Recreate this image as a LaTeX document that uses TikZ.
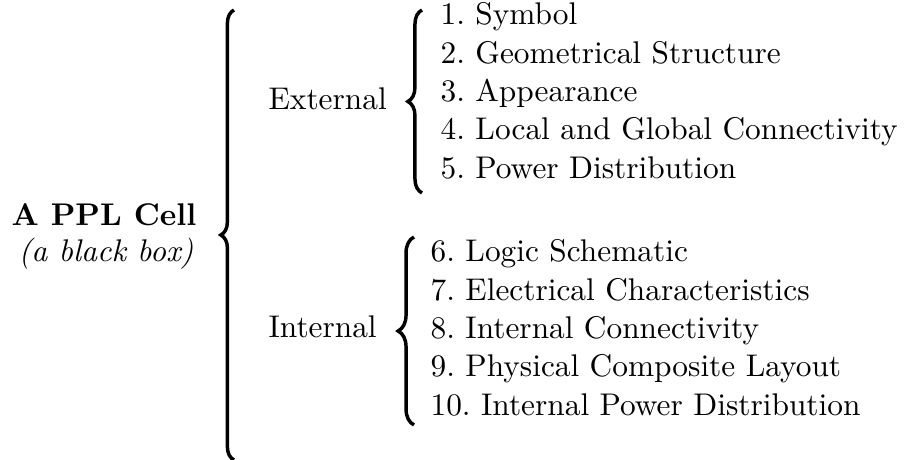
\documentclass[tikz,border=0pt]{standalone}
\usepackage{tikz}
\usetikzlibrary{decorations.pathreplacing}

\begin{document}
\begin{tikzpicture}[
    x=0.3333pt, y=-0.3333pt,
    every node/.style={inner sep=0pt, font=\fontsize{10.45}{13}\selectfont},
    txt/.style={anchor=base west},
    curly/.style={decorate, decoration={brace, amplitude=#1}, line width=1.15pt}
]
\useasboundingbox (0,0) rectangle (907,460);

\node[anchor=base] (cell) at (104,226) {\bfseries A PPL Cell};
\node[anchor=base] (note) at (106,262) {\itshape (a black box)};
\node[txt] (ext) at (268,110) {External};
\node[txt] (int) at (268,338) {Internal};

\foreach \t [count=\i] in {Symbol, Geometrical Structure, Appearance,
    Local and Global Connectivity, Power Distribution}
  \node[txt] (p\i) at (440,{25+38.3*(\i-1)}) {\i.\ \t};
\foreach \t [count=\i from 6] in {Logic Schematic, Electrical Characteristics,
    Internal Connectivity, Physical Composite Layout, Internal Power Distribution}
  \node[txt] (p\i) at (430,{262+38.3*(\i-6)}) {\i.\ \t};

% brace ends
\coordinate (cTop) at (234,10);
\coordinate (cBot) at (234,460);
\coordinate (eTop) at (422,10);
\coordinate (eBot) at (422,193);
\coordinate (iTop) at (414,237);
\coordinate (iBot) at (414,425);

\draw[curly=4.4pt] (cBot) -- (cTop);
\draw[curly=4.7pt] (eBot) -- (eTop);
\draw[curly=5.3pt] (iBot) -- (iTop);
\end{tikzpicture}
\end{document}
